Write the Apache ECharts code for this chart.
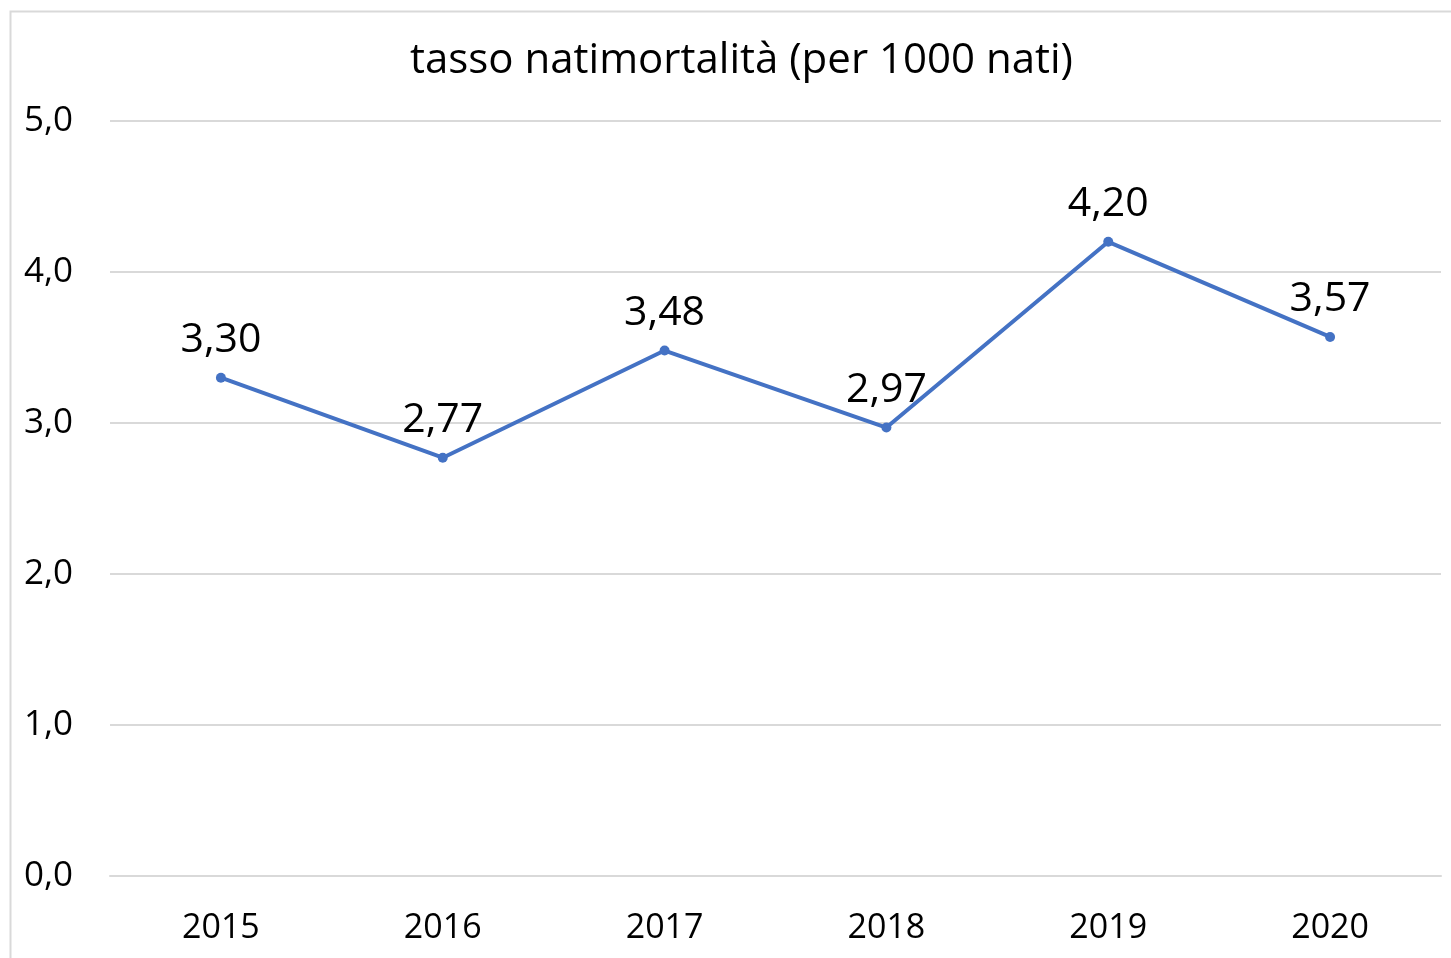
<!DOCTYPE html>
<html>
<head>
<meta charset="utf-8">
<script src="https://cdn.jsdelivr.net/npm/echarts@6/dist/echarts.min.js"></script>
<style>
html, body { margin: 0; padding: 0; background: #fff; }
#chart { width: 1451px; height: 958px; }
</style>
</head>
<body>
<div id="chart"></div>
<script>
// dati
var anni = ['2015', '2016', '2017', '2018', '2019', '2020'];
var tasso = [3.30, 2.77, 3.48, 2.97, 4.20, 3.57];

var chart = echarts.init(document.getElementById('chart'));

function virgola(v, d) {
	return v.toFixed(d).replace('.', ',');
}

var option = {
	animation: false,
	textStyle: { fontFamily: 'Open Sans' },
	title: {
		text: 'tasso natimortalità (per 1000 nati)',
		left: 405,
		top: 35,
		textStyle: { fontFamily: 'Open Sans', fontSize: 42, fontWeight: 'normal', color: '#000' }
	},
	// cornice grigia del grafico
	graphic: [{
		type: 'rect',
		shape: { x: 10.5, y: 11.5, width: 1500, height: 1000 },
		style: { fill: 'none', stroke: '#d9d9d9', lineWidth: 2 },
		silent: true
	}],
	grid: { left: 110, right: 10, top: 121, bottom: 82 },
	xAxis: {
		type: 'category',
		data: anni,
		boundaryGap: true,
		axisLine: { show: true, lineStyle: { color: '#d9d9d9', width: 2 } },
		axisTick: { show: false },
		axisLabel: { color: '#000', fontSize: 34, margin: 35 }
	},
	yAxis: {
		type: 'value',
		min: 0,
		max: 5,
		interval: 1,
		axisLine: { show: false },
		axisTick: { show: false },
		splitLine: { lineStyle: { color: '#d9d9d9', width: 2 } },
		axisLabel: {
			color: '#000',
			fontSize: 35,
			margin: 37,
			formatter: function (v) { return virgola(v, 1); }
		}
	},
	series: [{
		type: 'line',
		data: tasso,
		symbol: 'circle',
		symbolSize: 10,
		lineStyle: { color: '#4472c4', width: 4 },
		itemStyle: { color: '#4472c4' },
		label: {
			show: true,
			position: 'top',
			distance: 12,
			color: '#000',
			fontSize: 41,
			formatter: function (p) { return virgola(p.value, 2); }
		}
	}]
};

chart.setOption(option);
</script>
</body>
</html>
